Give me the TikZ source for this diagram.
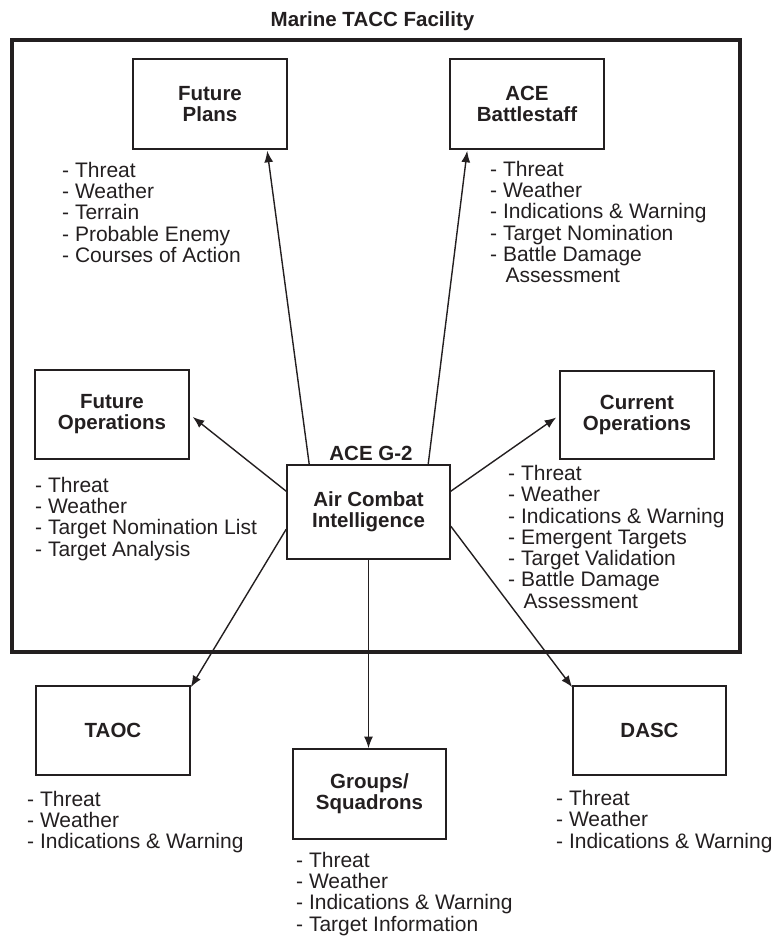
\documentclass[tikz,border=0pt]{standalone}
\usepackage{fontspec}
\setmainfont{Liberation Sans}
\usetikzlibrary{arrows.meta,calc}
\definecolor{ink}{RGB}{35,31,32}
\begin{document}
\begin{tikzpicture}[x=1pt,y=-1pt,
  box/.style={draw=ink, line width=1.6pt, minimum width=154pt, minimum height=89pt,
    inner sep=0pt, align=center, font=\bfseries\fontsize{20.5}{21}\selectfont, text=ink},
  lst/.style={anchor=north west, inner sep=0pt, align=left,
    font=\fontsize{21}{21.3}\selectfont, text=ink},
  lbl/.style={anchor=base, inner sep=0pt, font=\bfseries\fontsize{20.5}{21}\selectfont, text=ink},
  arr/.style={draw=ink, line width=1.4pt, -{Latex[length=11.5pt,width=9pt]}}]
\useasboundingbox (0,0) rectangle (780,937);

% title and frame
\node[lbl] (title) at (372.5,26) {Marine TACC Facility};
\draw[ink, line width=4pt] (12,40.3) rectangle (739.5,651.7);

% boxes
\node[box, minimum width=154pt, minimum height=90pt] (fp) at (210,104) {Future\\Plans};
\node[box, minimum width=154pt, minimum height=90pt] (bs) at (527,104) {ACE\\Battlestaff};
\node[box] (fo) at (112,414.5) {Future\\Operations};
\node[box, minimum height=88pt] (co) at (637,415) {Current\\Operations};
\node[box, minimum width=163pt, minimum height=94pt] (c) at (368.5,512) {Air Combat\\Intelligence};
\node[lbl] (g2) at (371,460) {ACE G-2};
\node[box] (taoc) at (113,730.5) {TAOC};
\node[box, minimum width=153pt, minimum height=90pt] (g) at (369.5,794) {Groups/\\Squadrons};
\node[box, minimum width=153pt] (dasc) at (649.5,730.5) {DASC};

% lists
\node[lst] (fpl) at (62,161.7) {- Threat\\- Weather\\- Terrain\\- Probable Enemy\\- Courses of Action};
\node[lst] (bsl) at (490,160.7) {- Threat\\- Weather\\- Indications \& Warning\\- Target Nomination\\- Battle Damage\\\hspace*{15.5pt}Assessment};
\node[lst] (fol) at (35,476.7) {- Threat\\- Weather\\- Target Nomination List\\- Target Analysis};
\node[lst] (col) at (508,465) {- Threat\\- Weather\\- Indications \& Warning\\- Emergent Targets\\- Target Validation\\- Battle Damage\\\hspace*{15.5pt}Assessment};
\node[lst] (taocl) at (27,790.7) {- Threat\\- Weather\\- Indications \& Warning};
\node[lst] (gl) at (296,851.7) {- Threat\\- Weather\\- Indications \& Warning\\- Target Information};
\node[lst] (dascl) at (556,790) {- Threat\\- Weather\\- Indications \& Warning};

% connectors
\draw[arr] ([xshift=23pt]c.north west) -- ([xshift=135pt,yshift=-1pt]fp.south west);
\draw[arr] ([xshift=142pt]c.north west) -- ([xshift=18pt,yshift=-1pt]bs.south west);
\draw[arr] ([yshift=-27pt]c.north west) -- ([xshift=3pt,yshift=-2.5pt]fo.east);
\draw[arr] ([yshift=-27pt]c.north east) -- ([xshift=-3pt,yshift=-2.5pt]co.west);
\draw[arr] ([yshift=-65pt]c.north west) -- ([yshift=-2pt]taoc.north east);
\draw[arr] (c.south) -- (c.south |- g.north);
\draw[arr] ([yshift=-62pt]c.north east) -- ([yshift=-2pt]dasc.north west);
\end{tikzpicture}
\end{document}
